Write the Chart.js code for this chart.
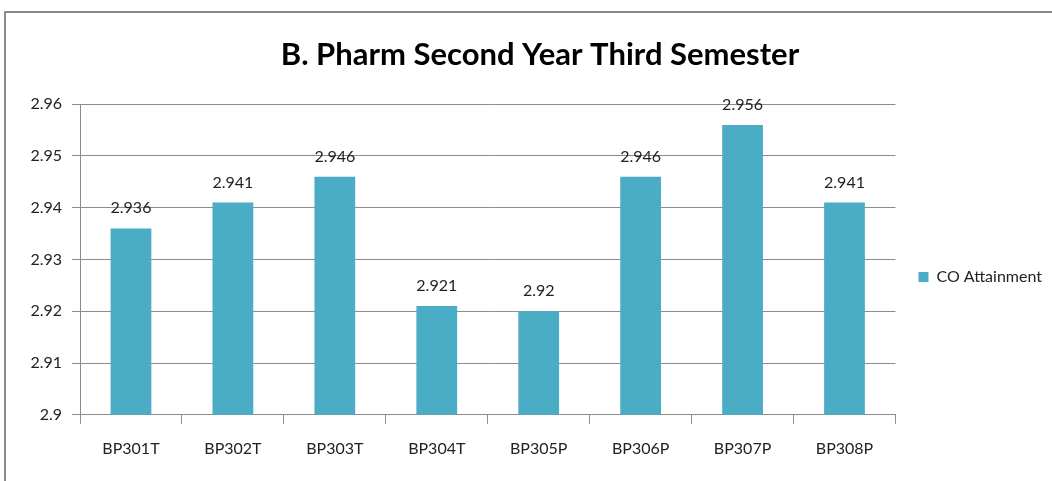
<!DOCTYPE html>
<html>
<head>
<meta charset="utf-8">
<script src="https://cdn.jsdelivr.net/npm/chart.js@4.4.1/dist/chart.umd.min.js"></script>
<style>
  html, body { margin: 0; padding: 0; background: #fff; overflow: hidden; }
  #frame { position: absolute; left: 4px; top: 11px; width: 2000px; height: 1000px; border: 2px solid #8a8a8a; }
  #wrap { position: absolute; left: 0; top: 0; width: 1052px; height: 481px; }
</style>
</head>
<body>
<div id="frame"></div>
<div id="wrap"><canvas id="c" width="1052" height="481"></canvas></div>
<script>
const categories = ['BP301T', 'BP302T', 'BP303T', 'BP304T', 'BP305P', 'BP306P', 'BP307P', 'BP308P'];
const coAttainment = [2.936, 2.941, 2.946, 2.921, 2.92, 2.946, 2.956, 2.941];
const seriesName = 'CO Attainment';
const chartTitle = 'B. Pharm Second Year Third Semester';
const yMin = 2.9, yMax = 2.96, yStep = 0.01;

const FONT = 'Lato';
const GRID = '#8c8c8c';

const valueLabels = {
  id: 'valueLabels',
  afterDatasetsDraw(chart) {
    const ctx = chart.ctx;
    const meta = chart.getDatasetMeta(0);
    ctx.save();
    ctx.font = '16px ' + FONT;
    ctx.fillStyle = '#222';
    ctx.textAlign = 'center';
    ctx.textBaseline = 'alphabetic';
    meta.data.forEach((bar, i) => {
      ctx.fillText(String(coAttainment[i]), bar.x, bar.y - 15);
    });
    ctx.restore();
  }
};

new Chart(document.getElementById('c'), {
  type: 'bar',
  data: {
    labels: categories,
    datasets: [{
      label: seriesName,
      data: coAttainment,
      backgroundColor: '#4BACC6',
      borderWidth: 0,
      barPercentage: 0.8,
      categoryPercentage: 0.5
    }]
  },
  options: {
    responsive: false,
    animation: false,
    layout: { padding: { left: 28, right: 0, top: 0, bottom: 8 } },
    plugins: {
      title: {
        display: true,
        text: chartTitle,
        color: '#000',
        font: { family: FONT, size: 31, weight: 'bold' },
        padding: { top: 36, bottom: 31 }
      },
      legend: {
        display: true,
        position: 'right',
        fullSize: false,
        title: { display: true, text: ' ', font: { family: FONT, size: 16 }, padding: { top: 16, bottom: 0 } },
        labels: {
          boxWidth: 10,
          boxHeight: 10,
          padding: 23,
          color: '#222',
          font: { family: FONT, size: 16 }
        }
      },
      tooltip: { enabled: false }
    },
    scales: {
      x: {
        offset: true,
        grid: { display: true, drawOnChartArea: false, drawTicks: true, tickLength: 9, color: GRID, offset: true },
        border: { display: true, color: GRID },
        ticks: { color: '#222', font: { family: FONT, size: 16 }, padding: 15, maxRotation: 0 }
      },
      y: {
        min: yMin,
        max: yMax,
        grid: { color: GRID, tickLength: 8, drawTicks: true },
        border: { display: true, color: GRID },
        afterFit(scale) { scale.width = 52; },
        ticks: {
          stepSize: yStep,
          color: '#222',
          padding: 10,
          font: { family: FONT, size: 16 },
          callback: (v) => String(parseFloat(Number(v).toFixed(2)))
        }
      }
    }
  },
  plugins: [valueLabels]
});
</script>
</body>
</html>
